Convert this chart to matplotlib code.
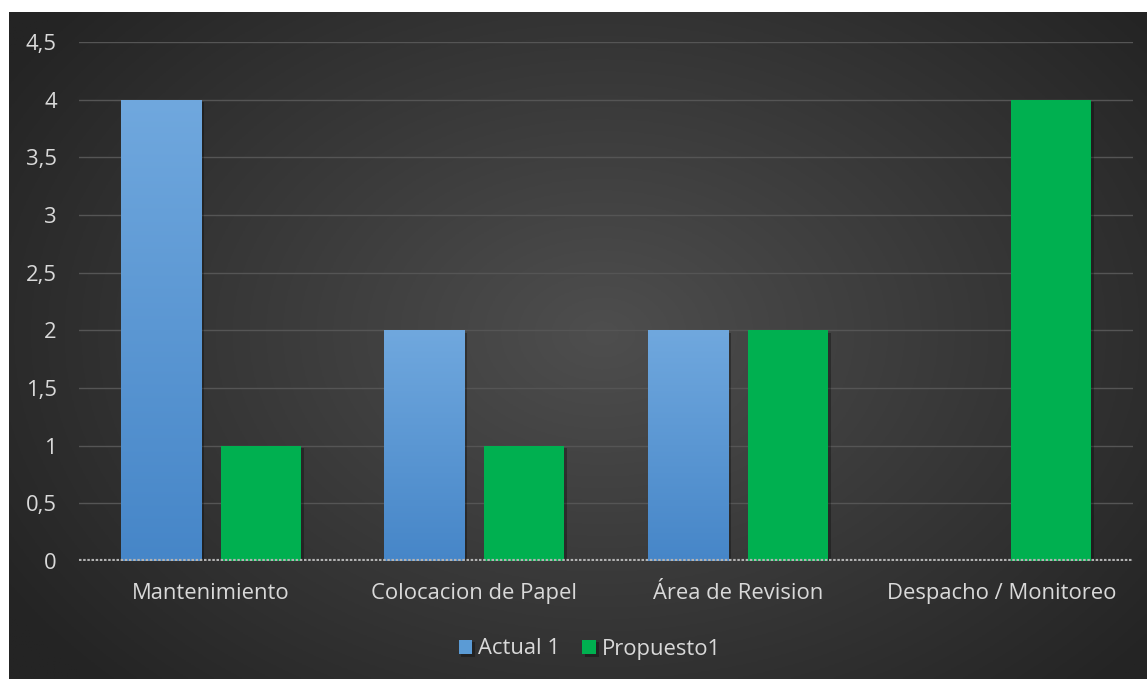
import numpy as np
import matplotlib
matplotlib.use("Agg")
import matplotlib.pyplot as plt
from matplotlib import patheffects

categories = ["Mantenimiento", "Colocacion de Papel", "Área de Revision", "Despacho / Monitoreo"]
actual = [4, 2, 2, 0]
propuesto = [1, 1, 2, 4]
series_names = ["Actual 1", "Propuesto1"]
yticks = [0, 0.5, 1, 1.5, 2, 2.5, 3, 3.5, 4, 4.5]
ytick_labels = ["0", "0,5", "1", "1,5", "2", "2,5", "3", "3,5", "4", "4,5"]

plt.rcParams['font.family'] = ['Open Sans', 'DejaVu Sans']
W, H = 1147, 679
fig = plt.figure(figsize=(W / 100, H / 100), dpi=100, facecolor="white")

# background radial gradient (chart area)
bg = fig.add_axes([9 / W, 0, 1 - 9 / W, 1 - 12 / H], zorder=0)
bw, bh = 400, 240
yy, xx = np.mgrid[0:bh, 0:bw]
cx, cy = bw * 0.52, bh * 0.48
d = np.sqrt(((xx - cx) / (bw * 0.62)) ** 2 + ((yy - cy) / (bh * 0.75)) ** 2)
d = np.clip(d, 0, 1)
inner = np.array([0x4e, 0x4e, 0x4e]) / 255
outer = np.array([0x24, 0x24, 0x24]) / 255
img = inner[None, None, :] * (1 - d[..., None]) + outer[None, None, :] * d[..., None]
bg.imshow(img, aspect="auto", extent=[0, 1, 0, 1], origin="upper")
bg.set_axis_off()

ax = fig.add_axes([79 / W, 1 - 561 / H, (1133 - 79) / W, (561 - 42) / H], zorder=1)
ax.set_facecolor("none")

x = np.arange(len(categories))
width = 0.305
off = 0.19
shadow = [patheffects.SimplePatchShadow(offset=(2, -2), shadow_rgbFace="black", alpha=0.3),
          patheffects.Normal()]
b1 = ax.bar(x - off, actual, width, color="#5b9bd5", label=series_names[0], zorder=3)
b2 = ax.bar(x + off, propuesto, width, color="#00b050", label=series_names[1], zorder=3)
for b in list(b1) + list(b2):
    b.set_path_effects(shadow)

# gradient on blue bars
grad = np.linspace(0, 1, 256)[:, None]
top = np.array([0x70, 0xa8, 0xde]) / 255
bot = np.array([0x46, 0x86, 0xc8]) / 255
gimg = top[None, None, :] * (1 - grad[..., None]) + bot[None, None, :] * grad[..., None]
for b in b1:
    if b.get_height() <= 0:
        continue
    x0, y0 = b.get_x(), b.get_y()
    im = ax.imshow(gimg, extent=[x0, x0 + b.get_width(), y0, y0 + b.get_height()],
                   aspect="auto", origin="upper", zorder=3.5)
    im.set_clip_path(b)

ax.set_xlim(-0.5, len(categories) - 0.5)
ax.set_ylim(0, 4.5)
ax.set_yticks(yticks)
ax.set_yticklabels(ytick_labels)
ax.set_xticks(x)
ax.set_xticklabels(categories)
ax.tick_params(axis="both", length=0, colors="#d9d9d9", labelsize=15.8)
ax.tick_params(axis="y", pad=16)
ax.tick_params(axis="x", pad=16)
for s in ax.spines.values():
    s.set_visible(False)
ax.grid(axis="y", color="#555555", linewidth=1.0, zorder=1)
ax.set_axisbelow(True)
ax.axhline(0, color="#b3b3b3", linewidth=3, linestyle=(0, (0.6, 0.4)), zorder=4)

fig.legend(handles=[b1, b2], labels=series_names, loc="center",
           bbox_to_anchor=(590 / W, 1 - 649 / H), ncol=2, frameon=False,
           labelcolor="#d9d9d9", fontsize=15.8, handlelength=0.62, handleheight=0.62,
           handletextpad=0.28, columnspacing=1.0)

fig.savefig("out.png", dpi=100, facecolor="white")
